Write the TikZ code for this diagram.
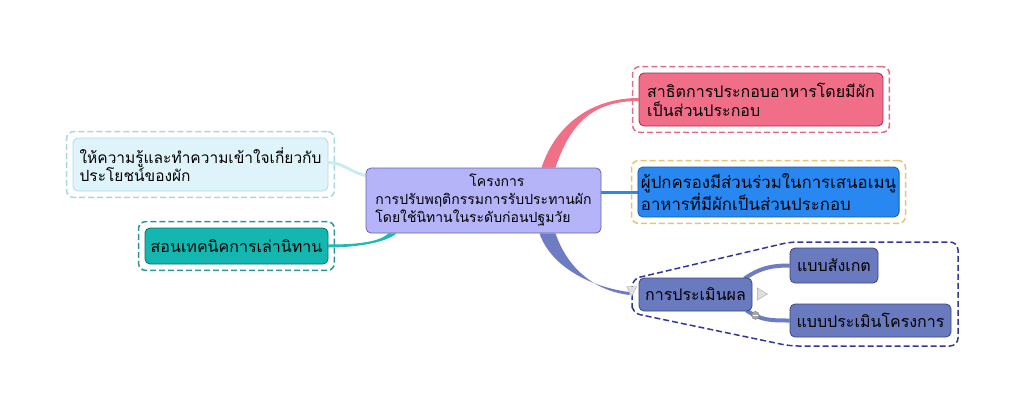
\documentclass[tikz,border=0pt]{standalone}
\usepackage{fontspec}
\setmainfont[Script=Thai]{Loma}
\usetikzlibrary{positioning,calc,fit,backgrounds}

\definecolor{projfill}{RGB}{182,180,248}
\definecolor{projline}{RGB}{100,100,170}
\definecolor{knowfill}{RGB}{222,244,250}
\definecolor{knowline}{RGB}{178,216,228}
\definecolor{knowframe}{RGB}{165,215,228}
\definecolor{knowbranch}{RGB}{200,236,240}
\definecolor{tellfill}{RGB}{20,182,176}
\definecolor{tellline}{RGB}{10,110,105}
\definecolor{tellframe}{RGB}{40,150,148}
\definecolor{tellbranch}{RGB}{30,185,178}
\definecolor{cookfill}{RGB}{240,110,135}
\definecolor{cookline}{RGB}{170,40,70}
\definecolor{cookframe}{RGB}{225,110,135}
\definecolor{cookbranch}{RGB}{240,112,136}
\definecolor{menufill}{RGB}{40,135,240}
\definecolor{menuline}{RGB}{30,90,170}
\definecolor{menuframe}{RGB}{235,195,110}
\definecolor{menubranch}{RGB}{45,135,235}
\definecolor{evalfill}{RGB}{105,122,190}
\definecolor{evalline}{RGB}{55,70,130}
\definecolor{evalframe}{RGB}{50,55,150}
\definecolor{evalbranch}{RGB}{110,125,195}

% tapered branch: colour, from, to, first control, second control, half width at root
\newcommand{\branch}[6]{%
  \fill[#1] ($(#2)+(-#6,0)$) .. controls +#4 and +#5 .. ($(#3)+(0,-1.5)$)
    -- ($(#3)+(0,1.5)$) .. controls +#5 and +#4 .. ($(#2)+(#6,0)$) -- cycle;}

\begin{document}
\begin{tikzpicture}[x=1pt, y=-1pt, font=\fontsize{14}{18}\selectfont,
    topic/.style={draw, rounded corners=5pt, line width=0.8pt, align=left, inner sep=3pt},
    big/.style={font=\fontsize{16}{19}\selectfont},
    frame/.style={draw, rounded corners=7pt, line width=1.5pt, dash pattern=on 6pt off 3pt, inner sep=6pt}]
    \useasboundingbox (0,0) rectangle (1024,412);

    \node[topic, fill=projfill, draw=projline, minimum width=235pt, minimum height=65pt] (proj) at (483.5,200.5)
        {\hspace*{94pt}โครงการ\\การปรับพฤติกรรมการรับประทานผัก\\โดยใช้นิทานในระดับก่อนปฐมวัย};

    \node[topic, font=\fontsize{15.5}{18}\selectfont, fill=knowfill, draw=knowline, minimum width=255pt, minimum height=53pt] (know) at (200.5,164.5)
        {ให้ความรู้และทำความเข้าใจเกี่ยวกับ\\ประโยชน์ของผัก};
    \node[topic, big, fill=tellfill, draw=tellline, minimum width=183pt, minimum height=36pt] (tell) at (236.5,246) {สอนเทคนิคการเล่านิทาน};

    \node[topic, big, fill=cookfill, draw=cookline, minimum width=244pt, minimum height=53pt] (cook) at (761,99.5)
        {สาธิตการประกอบอาหารโดยมีผัก\\เป็นส่วนประกอบ};
    \node[topic, font=\fontsize{16.8}{19}\selectfont, fill=menufill, draw=menuline, minimum width=259pt, minimum height=50pt] (menu) at (768.5,192)
        {ผู้ปกครองมีส่วนร่วมในการเสนอเมนู\\อาหารที่มีผักเป็นส่วนประกอบ};

    \node[topic, big, fill=evalfill, draw=evalline, minimum width=113pt, minimum height=33pt] (eval) at (695.5,294.5) {การประเมินผล};
    \node[topic, big, fill=evalfill, draw=evalline, minimum width=88pt, minimum height=35pt] (observe) at (834,265.5) {แบบสังเกต};
    \node[topic, big, fill=evalfill, draw=evalline, minimum width=161pt, minimum height=33pt] (assess) at (870.5,320.5) {แบบประเมินโครงการ};

    % dashed frames
    \node[frame, draw=knowframe, fit=(know)] (knowbox) {};
    \node[frame, draw=tellframe, fit=(tell)] (tellbox) {};
    \node[frame, draw=cookframe, fit=(cook)] (cookbox) {};
    \node[frame, draw=menuframe, fit=(menu)] (menubox) {};
    \draw[evalframe, line width=1.5pt, dash pattern=on 6pt off 3pt, rounded corners=8pt]
        (632,300) -- (632,279) -- (790,242) -- (958,242) -- (958,346) -- (790,346) -- (632,313) -- cycle;

    \begin{scope}[on background layer]
        \branch{cookbranch}{$(proj.north)+(65,0)$}{cook.west}{(15,-45)}{(-45,0)}{7}
        \branch{evalbranch}{$(proj.south)+(64,0)$}{$(eval.west)+(-9,-1)$}{(12,35)}{(-35,-4)}{8}
        \branch{tellbranch}{$(proj.south west)+(27,0)$}{tell.east}{(-10,9)}{(28,0)}{4}
        \draw[knowbranch, line width=3pt] ($(proj.west)+(0,-25)$) .. controls +(-15,-3) and +(15,0) .. ($(know.east)+(0,-2)$);
        \draw[menubranch, line width=3pt] (menu.west -| proj.east) -- (menu.west);
        \draw[evalbranch, line width=4pt] ($(eval.north east)+(-8,1)$) .. controls +(15,-10) and +(-20,0) .. (observe.west);
        \draw[evalbranch, line width=4pt] ($(eval.south east)+(-6,-1)$) .. controls +(15,10) and +(-20,0) .. (assess.west);
    \end{scope}

    % fold markers
    \filldraw[fill=gray!25, draw=gray!70] ($(eval.west)+(-12,-8)$) -- ++(10,0) -- ++(-5,10) -- cycle;
    \filldraw[fill=gray!25, draw=gray!70] ($(eval.east)+(5,-6.5)$) -- ++(10,6) -- ++(-10,6) -- cycle;
    \filldraw[fill=gray!70, draw=gray] ($(eval.south east)+(3,4)$) circle (4pt);
    \draw[white, line width=1pt] ($(eval.south east)+(0.5,4)$) -- ++(5,0);
\end{tikzpicture}
\end{document}
